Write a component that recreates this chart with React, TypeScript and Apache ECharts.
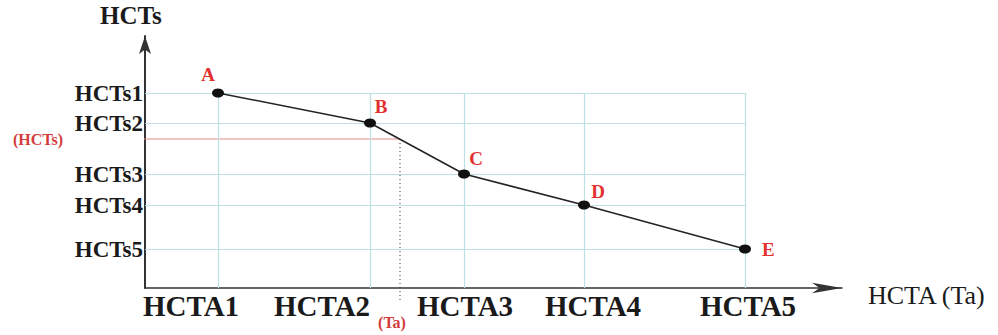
import React, { useEffect, useRef } from "react";
import * as echarts from "echarts";

// Point names and positions (relative units)
const pointNames = ["A", "B", "C", "D", "E"];
const xValues = [73, 225, 319, 439, 600];
const yValues = [195, 165, 114, 83, 39];

// Tick labels
const yTickLabels = ["HCTs1", "HCTs2", "HCTs3", "HCTs4", "HCTs5"];
const xTickLabels = ["HCTA1", "HCTA2", "HCTA3", "HCTA4", "HCTA5"];
const xTickLabelPos = [46, 177, 320, 448, 603];

// Reference (interpolated) point
const refX = 255;
const refY = 149;
const refLeftX = -73;
const refBottomY = -13;

const SERIF = "'Liberation Serif', 'Times New Roman', serif";
const RED = "#e3312f";
const GRID = "#bfe0e3";

const labelOffsets: Record<string, { position: string; offset: number[] }> = {
  A: { position: "top", offset: [-10, 0] },
  B: { position: "top", offset: [11, 2] },
  C: { position: "top", offset: [12, 3] },
  D: { position: "top", offset: [14, 5] },
  E: { position: "right", offset: [6, 0] },
};

export default function App() {
  const ref = useRef<HTMLDivElement>(null);
  useEffect(() => {
    if (!ref.current) return;
    const chart = echarts.init(ref.current, undefined, { renderer: "svg" });
    const xMax = xValues[xValues.length - 1];
    const yTop = yValues[0];

    const gridLines: any[] = [];
    yValues.forEach((y) => {
      gridLines.push([{ coord: [0, y] }, { coord: [xMax, y] }]);
    });
    xValues.forEach((x) => {
      gridLines.push([{ coord: [x, 0] }, { coord: [x, yTop] }]);
    });

    const refLabel = {
      show: true,
      color: "#d43c3c",
      fontFamily: SERIF,
      fontWeight: "bold",
      fontSize: 16,
    };

    chart.setOption({
      animation: false,
      grid: { left: 145, right: 156, top: 36, bottom: 47 },
      xAxis: {
        type: "value",
        min: 0,
        max: 697,
        splitLine: { show: false },
        axisTick: { show: false },
        axisLine: {
          show: true,
          symbol: ["none", "arrow"],
          symbolSize: [8, 30],
          lineStyle: { color: "#333", width: 1.5 },
        },
        axisLabel: {
          customValues: xTickLabelPos,
          formatter: (v: number) => xTickLabels[xTickLabelPos.indexOf(v)] ?? "",
          color: "#1a1a1a",
          fontFamily: SERIF,
          fontWeight: "bold",
          fontSize: 29,
          margin: 3,
        },
      },
      yAxis: {
        type: "value",
        min: 0,
        max: 252,
        splitLine: { show: false },
        axisTick: { show: false },
        axisLine: {
          show: true,
          symbol: ["none", "arrow"],
          symbolSize: [9, 18],
          lineStyle: { color: "#333", width: 2 },
        },
        axisLabel: {
          customValues: yValues,
          formatter: (v: number) => yTickLabels[yValues.indexOf(v)] ?? "",
          color: "#1a1a1a",
          fontFamily: SERIF,
          fontWeight: "bold",
          fontSize: 23,
          margin: 2,
        },
      },
      graphic: [
        {
          type: "text",
          left: 100,
          top: 3,
          style: {
            text: "HCTs",
            fontFamily: SERIF,
            fontWeight: "bold",
            fontSize: 25,
            fill: "#1a1a1a",
          },
        },
        {
          type: "text",
          left: 868,
          top: 282,
          style: {
            text: "HCTA (Ta)",
            fontFamily: SERIF,
            fontSize: 26,
            fill: "#1a1a1a",
          },
        },
      ],
      series: [
        {
          type: "line",
          clip: false,
          data: xValues.map((x, i) => ({
            value: [x, yValues[i]],
            name: pointNames[i],
            label: {
              show: true,
              position: labelOffsets[pointNames[i]].position,
              offset: labelOffsets[pointNames[i]].offset,
              formatter: pointNames[i],
              color: RED,
              fontFamily: SERIF,
              fontWeight: "bold",
              fontSize: 19,
            },
          })),
          symbol: "circle",
          symbolSize: [12, 9],
          itemStyle: { color: "#111" },
          lineStyle: { color: "#222", width: 1.5 },
          z: 5,
          markLine: {
            silent: true,
            symbol: ["none", "none"],
            label: { show: false },
            lineStyle: { color: GRID, width: 1.2, type: "solid" },
            data: gridLines,
          },
        },
        {
          type: "line",
          clip: false,
          silent: true,
          symbol: "circle",
          symbolSize: 2,
          showSymbol: true,
          itemStyle: { color: "rgba(0,0,0,0)" },
          lineStyle: { color: "#e58a8a", width: 1 },
          z: 3,
          data: [
            {
              value: [refLeftX, refY],
              label: { ...refLabel, position: "left", distance: 8, formatter: "(HCTs)" },
            },
            { value: [refX, refY], label: { show: false } },
          ],
        },
        {
          type: "line",
          clip: false,
          silent: true,
          symbol: "circle",
          symbolSize: 2,
          showSymbol: true,
          itemStyle: { color: "rgba(0,0,0,0)" },
          lineStyle: { color: "#333", width: 1, type: [1, 3] },
          z: 3,
          data: [
            { value: [refX, refY], label: { show: false } },
            {
              value: [refX, refBottomY],
              label: { ...refLabel, position: "bottom", distance: 12, offset: [-8, 0], formatter: "(Ta)" },
            },
          ],
        },
      ],
    });
    return () => chart.dispose();
  }, []);
  return (
    <div
      ref={ref}
      style={{ position: "fixed", left: 0, top: 0, width: 998, height: 335, background: "#fff" }}
    />
  );
}
